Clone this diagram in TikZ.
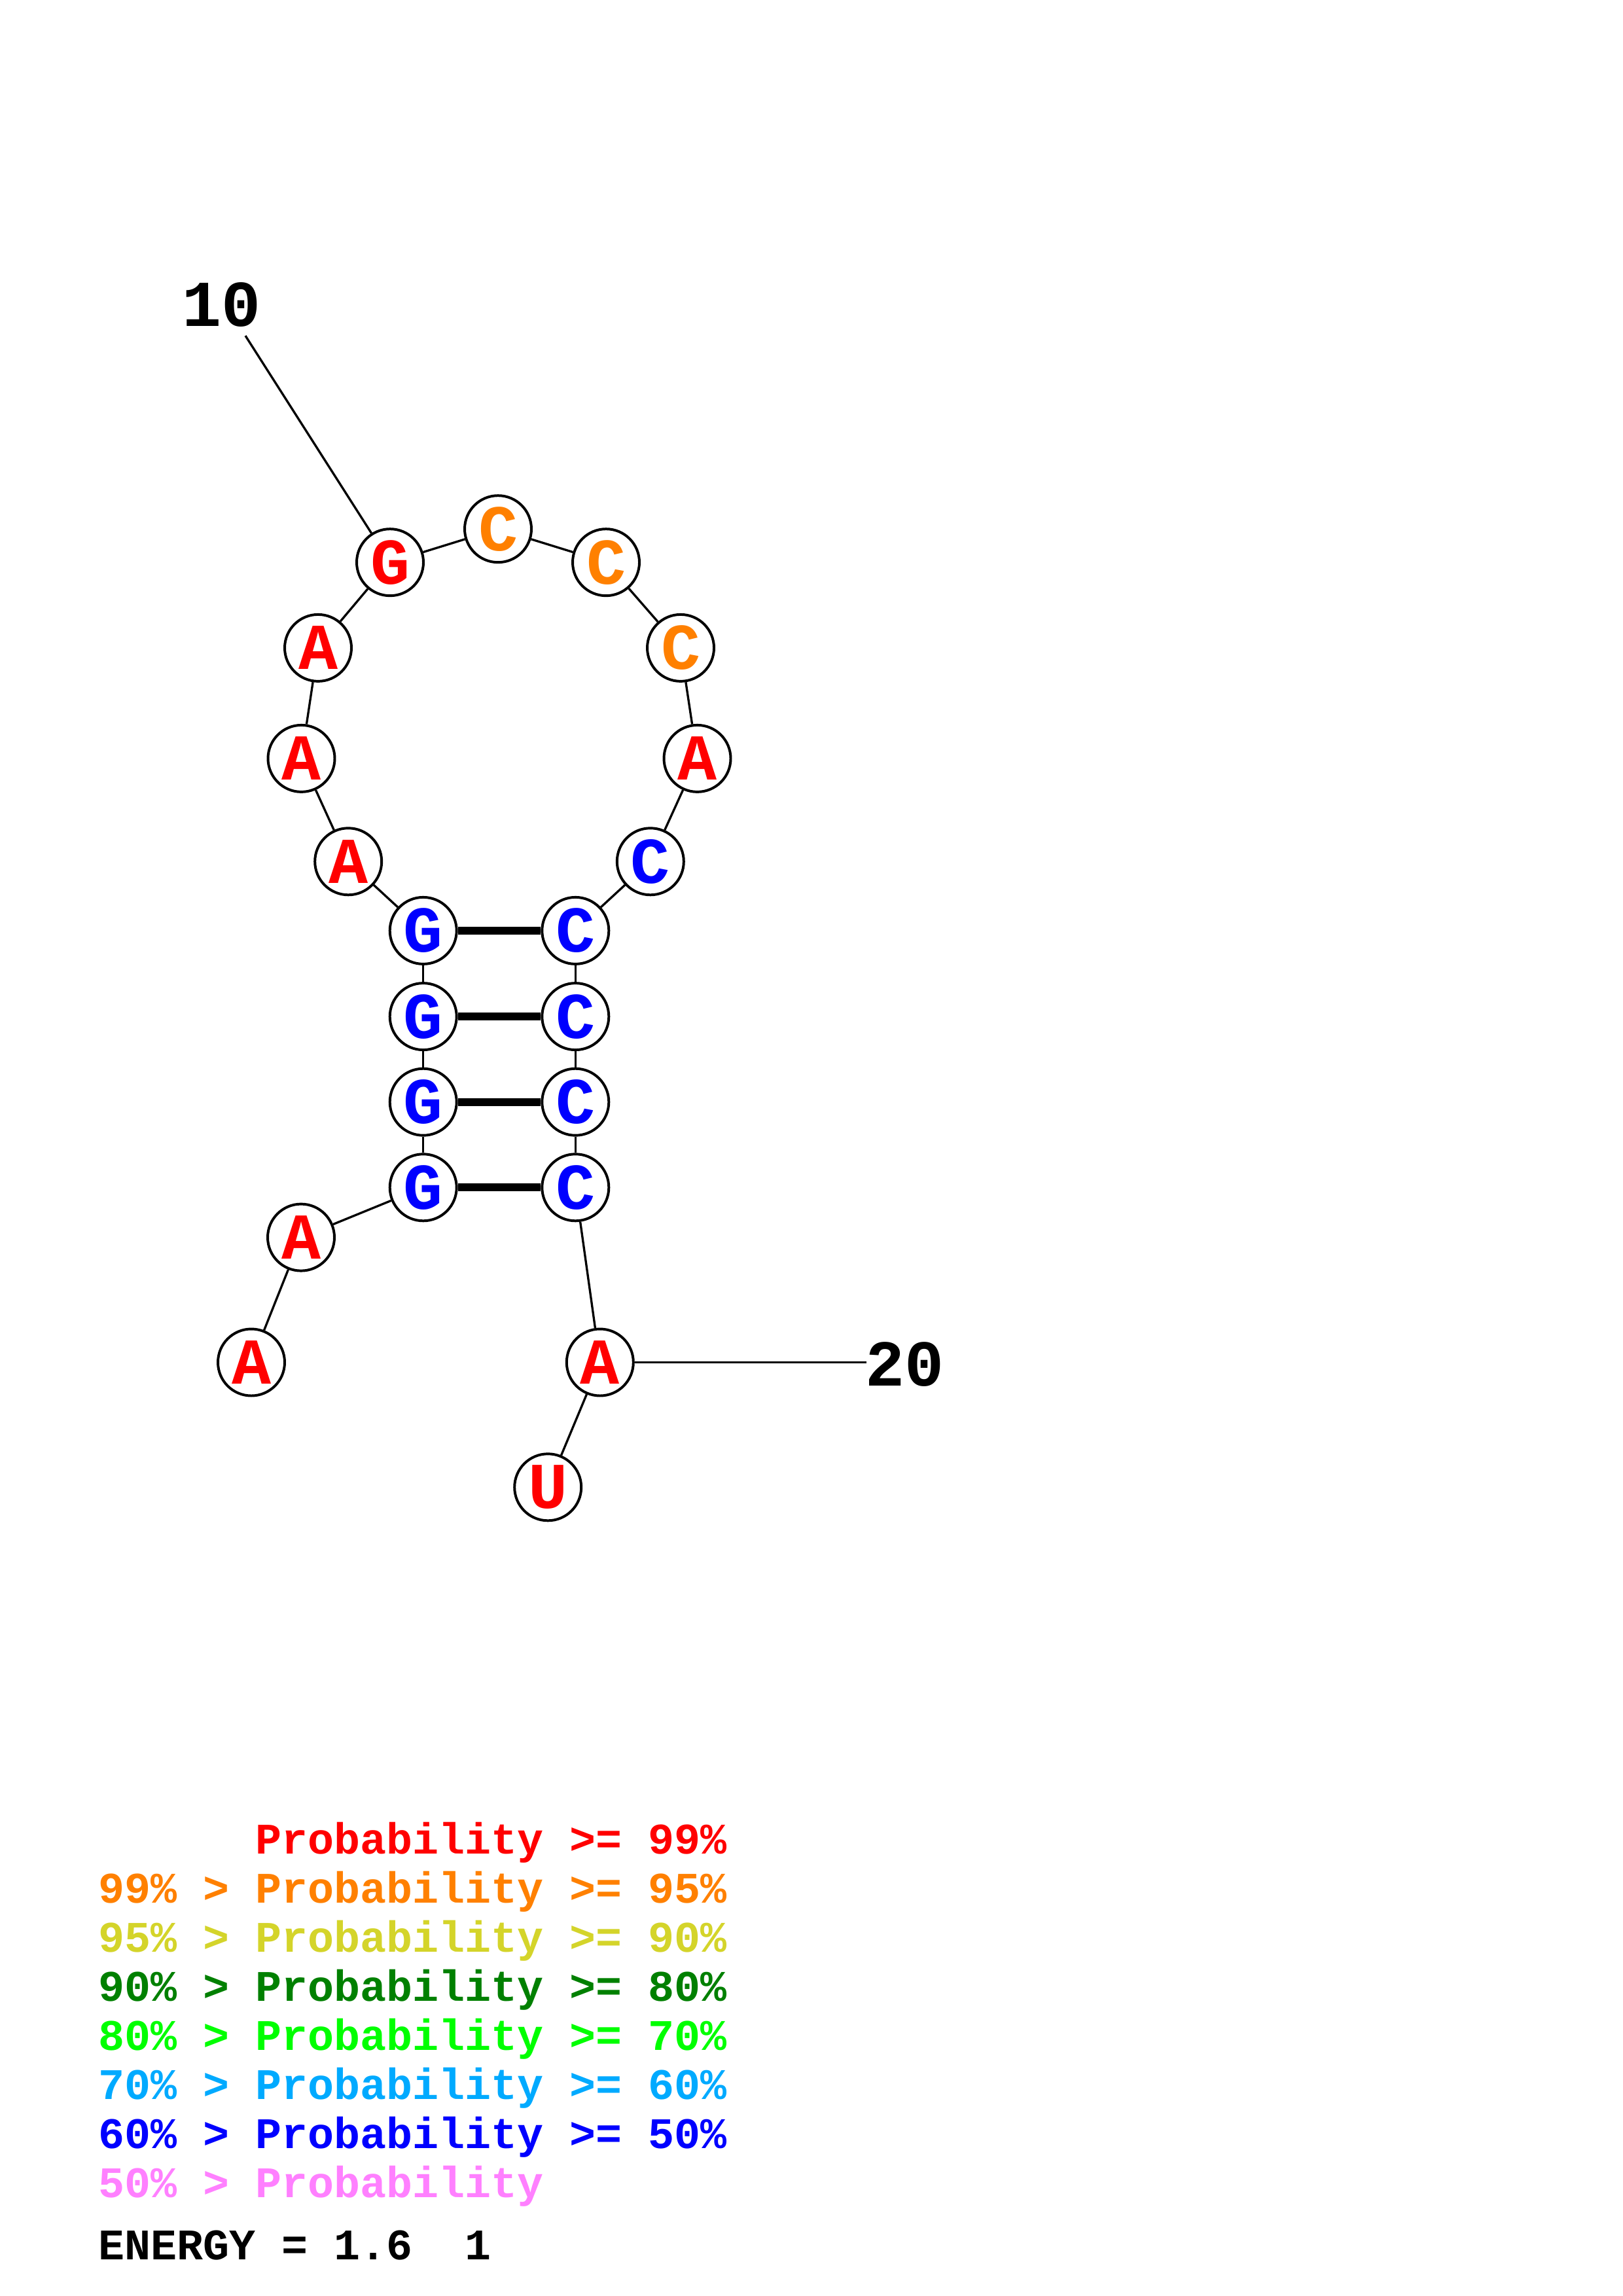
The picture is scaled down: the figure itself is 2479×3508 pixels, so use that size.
\documentclass[tikz,border=0pt]{standalone}
\usepackage{fontspec}
\setmainfont{Liberation Mono}
\definecolor{pred}{RGB}{255,0,0}
\definecolor{porange}{RGB}{255,128,0}
\definecolor{pyellow}{RGB}{212,212,42}
\definecolor{pdgreen}{RGB}{0,128,0}
\definecolor{pgreen}{RGB}{0,255,0}
\definecolor{plblue}{RGB}{0,170,255}
\definecolor{pblue}{RGB}{0,0,255}
\definecolor{ppink}{RGB}{255,128,255}
\newlength{\pxu}
\setlength{\pxu}{0.24pt}
\tikzset{
  nt/.style={circle,draw=black,line width=0.95pt,fill=white,minimum size=102\pxu,inner sep=0pt,font=\fontsize{24}{24}\selectfont\bfseries},
  ntr/.style={nt,text=pred},
  nto/.style={nt,text=porange},
  ntb/.style={nt,text=pblue},
  backbone/.style={line width=0.8pt,black},
  pairline/.style={line width=2.8pt,black},
  numlabel/.style={font=\fontsize{24}{24}\selectfont\bfseries,inner sep=0pt},
  legend/.style={anchor=base west,inner sep=0pt,font=\fontsize{16}{16}\selectfont\bfseries}
}
\begin{document}
\begin{tikzpicture}[x=0.24pt,y=-0.24pt]
\fill[white] (0,0) rectangle (2479,3508);
\useasboundingbox (0,0) rectangle (2479,3508);
% nucleotides
\node[ntr] (n1) at (384,2081.5) {A};
\node[ntr] (n2) at (460,1890.6) {A};
\node[ntb] (n3) at (646.7,1814.3) {G};
\node[ntb] (n4) at (646.7,1683.7) {G};
\node[ntb] (n5) at (646.7,1553.1) {G};
\node[ntb] (n6) at (646.7,1421.9) {G};
\node[ntr] (n7) at (532.2,1316.3) {A};
\node[ntr] (n8) at (460.5,1158.9) {A};
\node[ntr] (n9) at (486,989.9) {A};
\node[ntr] (n10) at (596,859.2) {G};
\node[nto] (n11) at (761,808.2) {C};
\node[nto] (n12) at (926,859.2) {C};
\node[nto] (n13) at (1040,989.9) {C};
\node[ntr] (n14) at (1065.5,1158.9) {A};
\node[ntb] (n15) at (993.8,1316.3) {C};
\node[ntb] (n16) at (879.3,1421.9) {C};
\node[ntb] (n17) at (879.3,1553.1) {C};
\node[ntb] (n18) at (879.3,1683.7) {C};
\node[ntb] (n19) at (879.3,1814.3) {C};
\node[ntr] (n20) at (916.8,2081.5) {A};
\node[ntr] (n21) at (837.2,2272.3) {U};
% backbone
\foreach \a/\b in {n1/n2,n2/n3,n3/n4,n4/n5,n5/n6,n6/n7,n7/n8,n8/n9,n9/n10,n10/n11,n11/n12,n12/n13,n13/n14,n14/n15,n15/n16,n16/n17,n17/n18,n18/n19,n19/n20,n20/n21}
  \draw[backbone] (\a) -- (\b);
% pairs
\foreach \a/\b in {n3/n19,n4/n18,n5/n17,n6/n16}
  \draw[pairline] (\a) -- (\b);
% number labels
\node[numlabel] (l10) at (339,466) {10};
\coordinate (c10) at (375,513);
\draw[backbone] (c10) -- (n10);
\node[numlabel] (l20) at (1382,2085) {20};
\coordinate (c20) at (1324,2081.5);
\draw[backbone] (n20) -- (c20);
% legend
\node[legend,text=pred] (g1) at (390,2832) {Probability >= 99\%};
\node[legend,text=porange] (g2) at (150,2907) {99\% > Probability >= 95\%};
\node[legend,text=pyellow] (g3) at (150,2982) {95\% > Probability >= 90\%};
\node[legend,text=pdgreen] (g4) at (150,3057.1) {90\% > Probability >= 80\%};
\node[legend,text=pgreen] (g5) at (150,3132.2) {80\% > Probability >= 70\%};
\node[legend,text=plblue] (g6) at (150,3207.2) {70\% > Probability >= 60\%};
\node[legend,text=pblue] (g7) at (150,3282.2) {60\% > Probability >= 50\%};
\node[legend,text=ppink] (g8) at (150,3357.3) {50\% > Probability};
\node[legend,text=black] (en) at (150,3452.6) {ENERGY = 1.6\ \ 1};
\end{tikzpicture}
\end{document}
